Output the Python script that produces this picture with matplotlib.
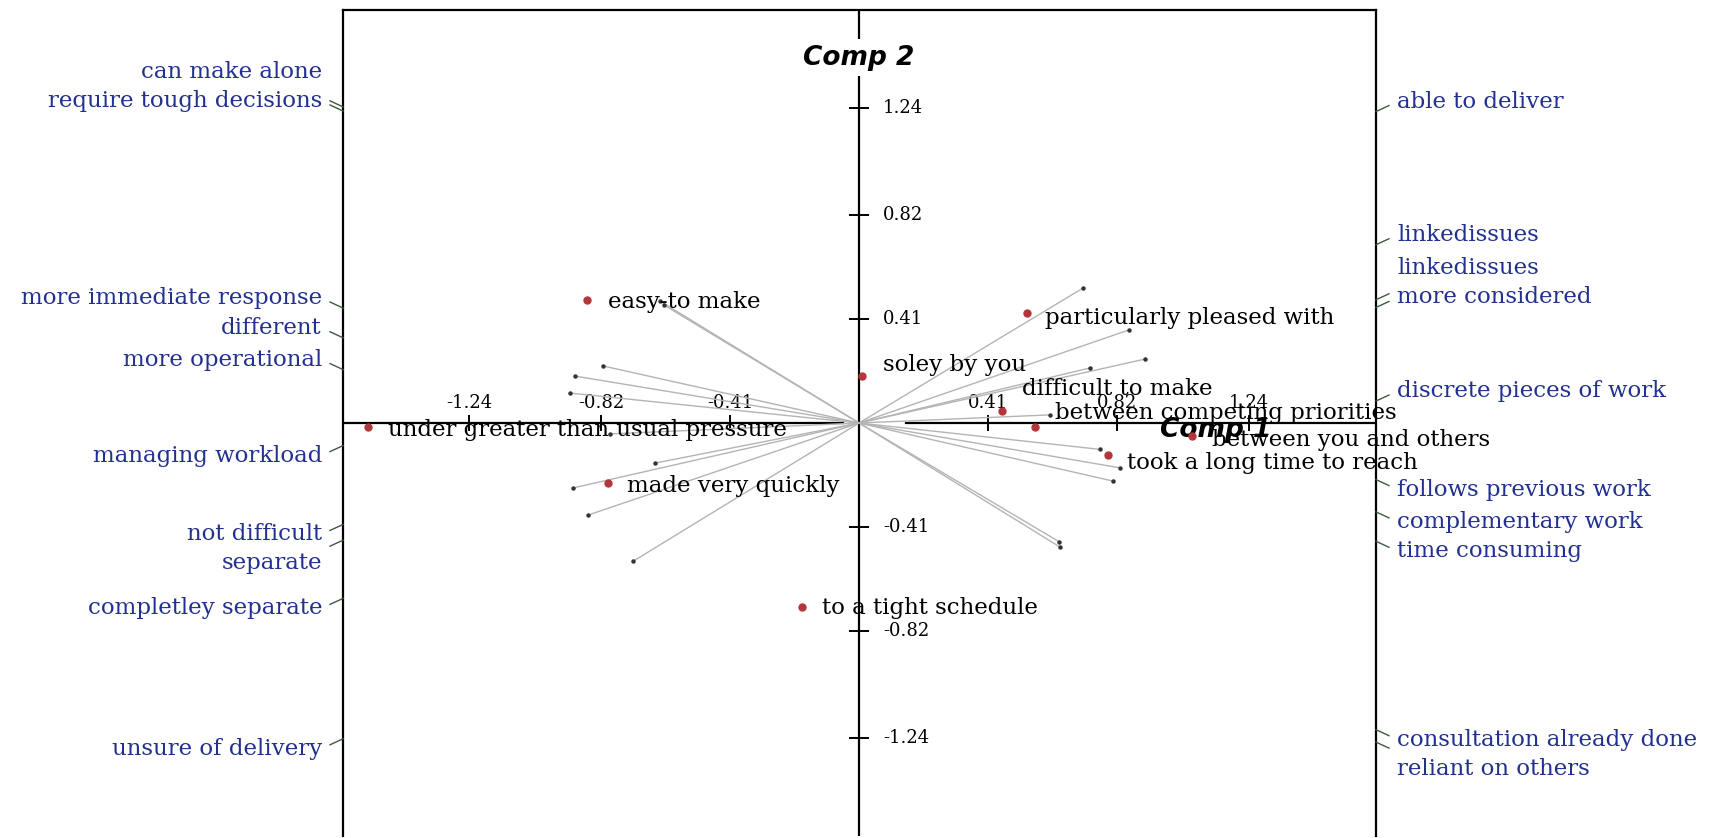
import matplotlib
matplotlib.use("Agg")
import matplotlib.pyplot as plt
import numpy as np
from matplotlib.transforms import IdentityTransform

# Observations projected on the first two components
row_labels = ["easy-to make", "under greater than usual pressure", "made very quickly",
              "particularly pleased with", "soley by you", "difficult to make",
              "between competing priorities", "between you and others",
              "took a long time to reach", "to a tight schedule"]
row_comp1 = [-0.865, -1.561, -0.798, 0.534, 0.010, 0.455, 0.559, 1.058, 0.791, -0.181]
row_comp2 = [0.485, -0.016, -0.236, 0.434, 0.185, 0.047, -0.016, -0.051, -0.126, -0.725]

# Variable loadings drawn as arrows from the origin
var_labels = ["able to deliver", "linkedissues", "linkedissues", "more considered",
              "discrete pieces of work", "follows previous work", "complementary work",
              "time consuming", "consultation already done", "reliant on others",
              "can make alone", "require tough decisions", "more immediate response",
              "different", "more operational", "managing workload", "not difficult",
              "separate", "completley separate", "unsure of delivery"]
var_comp1 = [0.712, 0.858, 0.734, 0.909, 0.607, 0.766, 0.830, 0.807, 0.636, 0.640,
             -0.633, -0.620, -0.814, -0.903, -0.919, -0.791, -0.648, -0.909, -0.861, -0.718]
var_comp2 = [0.532, 0.367, 0.217, 0.252, 0.032, -0.104, -0.177, -0.229, -0.468, -0.490,
             0.481, 0.465, 0.225, 0.185, 0.118, -0.043, -0.158, -0.256, -0.363, -0.545]

tick_values = [-1.24, -0.82, -0.41, 0.41, 0.82, 1.24]
tick_labels = ["-1.24", "-0.82", "-0.41", "0.41", "0.82", "1.24"]

# label offsets (pixels) for the observation names
row_nudge = [(21, -2), (20, -3), (19, -3), (18, -5), (21, 11), (20, 22),
             (20, 14), (20, -4), (19, -8), (20, -1)]

W, H = 1709, 838
fig = plt.figure(figsize=(W / 100, H / 100), dpi=100)
fig.patch.set_facecolor("white")
ax = fig.add_axes([343 / W, 2 / H, 1033 / W, 826 / H])
ax.set_xlim(-1.640, 1.643)
ax.set_ylim(-1.628, 1.628)
ax.set_xticks([])
ax.set_yticks([])
for side in ["left", "right", "top"]:
    ax.spines[side].set_linewidth(1.6)
    ax.spines[side].set_color("black")
ax.spines["bottom"].set_visible(False)

serif = "DejaVu Serif"
blue = "#22308f"
label_size = 16.5

# Component axes
x_lo, x_hi = ax.get_xlim()
y_lo, y_hi = ax.get_ylim()
ax.plot([x_lo, -0.05], [0, 0], color="black", lw=1.6, zorder=2)
ax.plot([0.15, x_hi], [0, 0], color="black", lw=1.6, zorder=2)
ax.plot([0, 0], [y_lo, y_hi], color="black", lw=1.6, zorder=2)

for t, s in zip(tick_values, tick_labels):
    ax.plot([t], [0], marker="|", markersize=11.5, markeredgewidth=1.4,
            color="black", zorder=2)
    ax.annotate(s, xy=(t, 0), xytext=(0, 20), textcoords="offset pixels",
                ha="center", va="center", fontsize=13, family=serif, zorder=3)
    ax.plot([0], [t], marker="_", markersize=14, markeredgewidth=1.4,
            color="black", zorder=2)
    ax.annotate(s, xy=(0, t), xytext=(24, 0), textcoords="offset pixels",
                ha="left", va="center", fontsize=13, family=serif, zorder=3)

ax.text(0, 1.44, "Comp 2", ha="center", va="center", fontsize=19,
        fontweight="bold", fontstyle="italic", family="DejaVu Sans",
        bbox=dict(facecolor="white", edgecolor="none", pad=4), zorder=4)
ax.text(1.132, -0.028, "Comp 1", ha="center", va="center", fontsize=19,
        fontweight="bold", fontstyle="italic", family="DejaVu Sans", zorder=4)

# Loading arrows
for vx, vy in zip(var_comp1, var_comp2):
    ax.plot([0, vx], [0, vy], color="#b4b4b4", lw=1.0, zorder=3)
ax.plot(var_comp1, var_comp2, linestyle="none", marker="o", markersize=2.2,
        color="#333333", zorder=3)

# Observations
ax.plot(row_comp1, row_comp2, linestyle="none", marker="o", markersize=5,
        color="#b3363a", zorder=5)
for name, x, y, (dx, dy) in zip(row_labels, row_comp1, row_comp2, row_nudge):
    ax.annotate(name, xy=(x, y), xytext=(dx, dy), textcoords="offset pixels",
                ha="left", va="center", fontsize=label_size, family=serif, zorder=6)

# Variable names in the margins, at the point where each arrow meets the frame
fig.canvas.draw()
to_disp = ax.transData.transform
ox, oy = to_disp((0, 0))
(bx0, by0), (bx1, by1) = ax.transAxes.transform([(0, 0), (1, 1)])

entries = []
for name, vx, vy in zip(var_labels, var_comp1, var_comp2):
    px, py = to_disp((vx, vy))
    dx, dy = px - ox, py - oy
    edge = bx1 if dx > 0 else bx0
    anchor = oy + (edge - ox) / dx * dy
    entries.append(dict(name=name, side=1 if dx > 0 else -1, up=dy > 0,
                        edge=edge, anchor=anchor,
                        ty=anchor + (10 if dy > 0 else -10)))

gap = 29
for side in (1, -1):
    ups = sorted([e for e in entries if e["side"] == side and e["up"]],
                 key=lambda e: e["anchor"])
    prev = None
    for e in ups:
        if prev is not None:
            e["ty"] = max(e["ty"], prev + gap)
        prev = e["ty"]
    downs = sorted([e for e in entries if e["side"] == side and not e["up"]],
                   key=lambda e: -e["anchor"])
    prev = None
    for e in downs:
        if prev is not None:
            e["ty"] = min(e["ty"], prev - gap)
        prev = e["ty"]

ident = IdentityTransform()
for e in entries:
    s = e["side"]
    lead_end = e["anchor"] + float(np.clip(e["ty"] - e["anchor"], -6, 6))
    fig.add_artist(plt.Line2D([e["edge"], e["edge"] + s * 13],
                              [e["anchor"], lead_end], transform=ident,
                              color="#3e5a3e", lw=1.0))
    fig.text(e["edge"] + s * 21, e["ty"], e["name"], transform=ident,
             ha="left" if s > 0 else "right", va="center", fontsize=label_size,
             family=serif, color=blue)

fig.savefig("out.png", dpi=100, facecolor="white")
